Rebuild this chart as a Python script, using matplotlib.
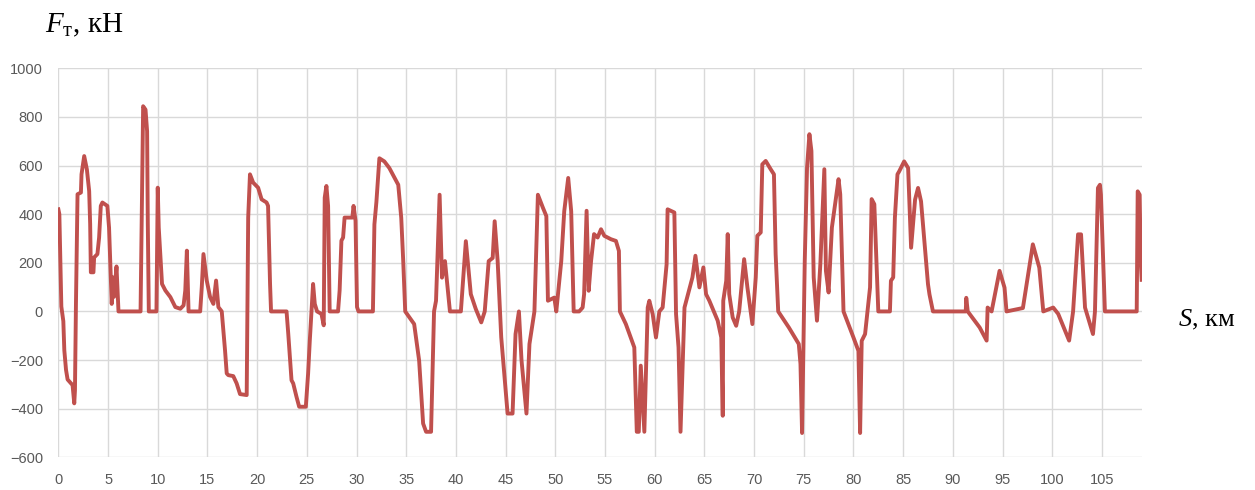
import matplotlib
matplotlib.use("Agg")
import matplotlib.pyplot as plt

# путь, км
s_km = [
    0.0, 0.1, 0.3, 0.5, 0.6, 0.77, 0.93, 1.27, 1.43, 1.6, 1.67, 1.77, 1.93, 2.27, 2.33, 2.6,
    2.87, 3.1, 3.2, 3.27, 3.53, 3.6, 3.93, 4.1, 4.27, 4.43, 4.93, 5.1, 5.27, 5.37, 5.5, 5.6,
    5.85, 6.05, 8.27, 8.43, 8.53, 8.77, 8.93, 9.0, 9.1, 9.87, 10.0, 10.1, 10.43, 10.77, 11.27,
    11.77, 12.27, 12.6, 12.77, 12.93, 13.1, 14.27, 14.43, 14.6, 14.93, 15.27, 15.6, 15.87,
    16.1, 16.44, 16.77, 16.94, 17.1, 17.6, 17.94, 18.28, 18.95, 19.1, 19.28, 19.6, 20.1,
    20.45, 20.95, 21.1, 21.3, 21.4, 22.96, 23.13, 23.46, 23.63, 23.96, 24.23, 24.9, 25.13,
    25.3, 25.47, 25.63, 25.8, 26.03, 26.47, 26.7, 26.8, 26.97, 27.14, 27.3, 28.14, 28.3,
    28.48, 28.65, 28.8, 29.58, 29.7, 29.9, 30.05, 30.2, 31.65, 31.8, 32.0, 32.3, 32.8, 33.3,
    34.2, 34.5, 34.7, 34.9, 35.8, 36.3, 36.7, 37.0, 37.5, 37.8, 38.0, 38.36, 38.6, 38.9, 39.4,
    40.5, 41.0, 41.5, 42.0, 42.55, 42.9, 43.3, 43.7, 43.9, 44.2, 44.56, 45.2, 45.7, 46.0,
    46.34, 46.6, 47.1, 47.4, 47.9, 48.25, 48.76, 49.1, 49.26, 49.9, 50.1, 50.6, 50.9, 51.3,
    51.6, 51.85, 52.4, 52.75, 52.9, 53.15, 53.36, 53.6, 53.9, 54.26, 54.6, 54.93, 55.6, 56.1,
    56.4, 56.5, 57.1, 57.95, 58.2, 58.4, 58.6, 58.96, 59.3, 59.46, 59.8, 60.13, 60.47, 60.8,
    61.2, 61.3, 61.98, 62.15, 62.4, 62.6, 63.0, 63.8, 64.1, 64.5, 64.9, 65.17, 65.5, 66.34,
    66.7, 66.85, 66.9, 67.2, 67.35, 67.5, 67.85, 68.2, 68.5, 69.0, 69.33, 69.83, 70.17, 70.33,
    70.67, 70.83, 71.17, 71.67, 72.0, 72.17, 72.43, 73.5, 74.5, 74.67, 74.83, 75.1, 75.33,
    75.57, 75.77, 76.0, 76.33, 76.67, 77.07, 77.23, 77.5, 77.83, 78.5, 78.67, 79.0, 80.0,
    80.5, 80.67, 80.83, 81.17, 81.67, 81.83, 82.1, 82.5, 83.67, 83.77, 84.0, 84.17, 84.43,
    84.6, 85.1, 85.5, 85.8, 86.2, 86.5, 86.8, 87.5, 87.65, 88.0, 91.3, 91.35, 91.5, 92.7,
    93.4, 93.5, 93.9, 94.7, 95.2, 95.4, 97.05, 98.05, 98.7, 99.1, 100.1, 100.6, 101.7, 102.1,
    102.6, 102.9, 103.3, 104.1, 104.3, 104.6, 104.8, 104.9, 105.3, 108.5, 108.6, 108.8,
    108.9, 109.0,
]

# сила тяги, кН
f_kn = [
    420, 400, 20, -40, -160, -240, -280, -296, -303, -378, -325, 30, 482, 489, 564, 639,
    584, 495, 359, 161, 161, 222, 236, 304, 434, 448, 434, 345, 141, 31, 140, 60,
    185, 0, 0, 523, 844, 830, 741, 359, 0, 0, 509, 345, 113, 86, 59,
    18, 11, 25, 86, 250, 0, 0, 100, 236, 127, 59, 31, 127,
    18, 0, -160, -255, -262, -266, -296, -340, -344, 386, 564, 530, 509,
    461, 448, 434, 113, 0, 0, -91, -283, -296, -351, -392, -392, -255,
    -119, 0, 113, 31, 0, -10, -57, 468, 516, 434, 0, 0, 86,
    291, 304, 386, 386, 434, 373, 18, 0, 0, 358, 450, 630, 617, 590,
    521, 385, 207, 0, -52, -202, -461, -495, -495, 0, 44, 480, 139, 207, 0,
    0, 289, 71, 10, -45, 0, 207, 220, 371, 207, -106, -420, -420, -93,
    0, -200, -420, -134, 0, 480, 426, 392, 44, 57, 0, 207, 412, 549,
    412, 0, 0, 16, 71, 414, 85, 208, 318, 304, 338, 311, 297, 290,
    249, 0, -52, -148, -495, -495, -223, -495, 16, 44, -11, -107, 0, 16,
    194, 420, 407, -11, -148, -495, 16, 140, 229, 99, 181, 71, 44, -38,
    -107, -429, 44, 126, 318, 71, -25, -59, 0, 215, 99, -52, 140, 311,
    325, 605, 619, 585, 564, 236, 0, -66, -134, -216, -500, 208, 592,
    729, 660, 140, -38, 195, 585, 167, 78, 345, 544, 482, 0, -107,
    -162, -500, -121, -93, 99, 462, 441, 0, 0, 126, 140, 386, 564,
    576, 617, 590, 262, 460, 508, 453, 112, 70, 0, 0, 56, 0, -66,
    -120, 16, 0, 167, 98, 0, 14, 276, 180, 0, 16, -10, -120, 0,
    317, 317, 16, -93, 0, 508, 521, 480, 0, 0, 494, 480,
    207, 130,
]

x_ticks = list(range(0, 110, 5))
y_ticks = list(range(-600, 1001, 200))

plt.rcParams['mathtext.fontset'] = 'custom'
plt.rcParams['mathtext.rm'] = 'Liberation Serif'
plt.rcParams['mathtext.it'] = 'Liberation Serif:italic'

fig = plt.figure(figsize=(12.55, 4.9), dpi=100)
ax = fig.add_axes([0.0465, 0.0667, 0.8632, 0.7939])

ax.plot(s_km, f_kn, color='#C0504D', linewidth=2.8, solid_joinstyle='round')

ax.set_xlim(0, 109)
ax.set_ylim(-600, 1000)
ax.set_xticks(x_ticks)
ax.set_yticks(y_ticks)
ax.grid(True, color='#D9D9D9', linewidth=1.0)
ax.set_axisbelow(True)
for sp in ax.spines.values():
    sp.set_visible(False)
ax.tick_params(length=0, labelsize=10.5, labelcolor='#595959', pad=11)
for lbl in ax.get_xticklabels() + ax.get_yticklabels():
    lbl.set_family('Liberation Sans')

fig.text(0.036, 0.933, r'$F_{\mathrm{т}}$, кН', family='Liberation Serif', fontsize=21,
         color='black')
fig.text(0.9386, 0.333, r'$S$, км', family='Liberation Serif', fontsize=19,
         color='black')

fig.savefig('out.png', dpi=100)
